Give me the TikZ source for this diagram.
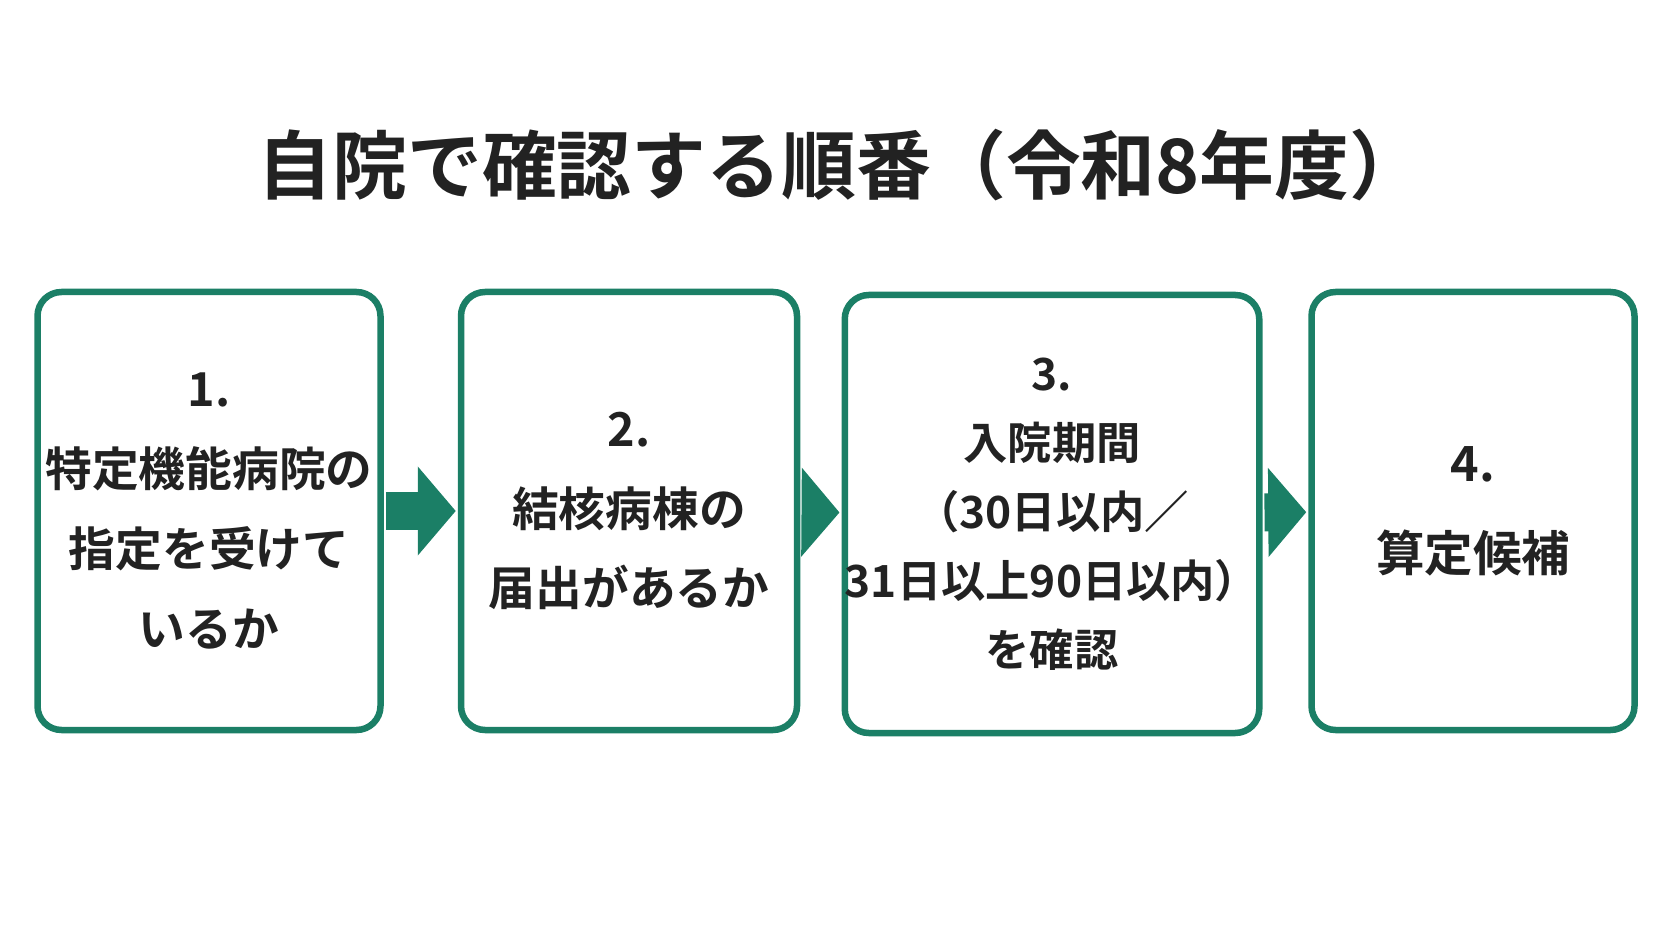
\documentclass[tikz,border=0pt]{standalone}
\usepackage{fontspec}
\newfontfamily\jp{Noto Sans CJK JP Bold}
\usetikzlibrary{arrows.meta}
\definecolor{stepgreen}{HTML}{1B7F66}
\definecolor{inktext}{HTML}{222222}
\tikzset{
  stepbox/.style={draw=stepgreen, line width=0.065cm, rounded corners=0.24cm, fill=white,
    minimum height=4.38cm, align=center, text=inktext, inner sep=0pt,
    font=\jp\fontsize{13.3}{22.7}\selectfont},
  flow/.style={draw=stepgreen, line width=0.38cm, -{Triangle[length=0.38cm,width=0.87cm]}, shorten <=0.02cm, shorten >=0.02cm}
}
\begin{document}
\begin{tikzpicture}
  \useasboundingbox (0,0) rectangle (16.72,9.41);
  \node[text=inktext, font=\jp\fontsize{21.3}{25}\selectfont] (title) at (8.41,7.76) {自院で確認する順番（令和8年度）};

  \node[stepbox, minimum width=3.43cm] (s1) at (2.09,4.30) {1.\\特定機能病院の\\指定を受けて\\いるか};
  \node[stepbox, minimum width=3.36cm] (s2) at (6.29,4.30) {2.\\結核病棟の\\届出があるか};
  \node[stepbox, minimum width=3.57cm, font=\jp\fontsize{12.6}{19.6}\selectfont] (s3) at (10.52,4.27) {3.\\入院期間\\（30日以内／\\31日以上90日以内）\\を確認};
  \node[stepbox, minimum width=3.23cm, font=\jp\fontsize{13.8}{25.6}\selectfont] (s4) at (14.73,4.30) {4.\\算定候補};

  \draw[flow] (s1) -- (s2);
  \draw[flow] (s2) -- (s3);
  \draw[flow] (s3) -- (s4);
\end{tikzpicture}
\end{document}
